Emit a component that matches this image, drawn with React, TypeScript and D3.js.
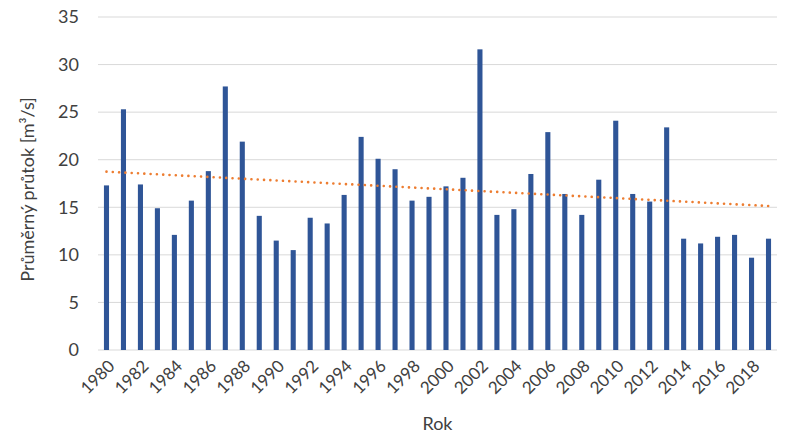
import React, { useEffect, useRef } from "react";
import * as d3 from "d3";

// Years and mean annual flow (m³/s)
const years: number[] = d3.range(1980, 2020);
const flows: number[] = [
  17.3, 25.3, 17.4, 14.9, 12.1, 15.7, 18.8, 27.7, 21.9, 14.1,
  11.5, 10.5, 13.9, 13.3, 16.3, 22.4, 20.1, 19.0, 15.7, 16.1,
  17.2, 18.1, 31.6, 14.2, 14.8, 18.5, 22.9, 16.4, 14.2, 17.9,
  24.1, 16.4, 15.6, 23.4, 11.7, 11.2, 11.9, 12.1, 9.7, 11.7,
];
const yTicks: number[] = [0, 5, 10, 15, 20, 25, 30, 35];
const xTickYears: number[] = d3.range(1980, 2019, 2);

const App: React.FC = () => {
  const svgRef = useRef<SVGSVGElement>(null);

  useEffect(() => {
    const width = 800;
    const height = 441;
    const margin = { top: 17, right: 23, bottom: 91, left: 98 };

    const svg = d3.select(svgRef.current);
    svg.selectAll("*").remove();

    const x = d3.scaleBand<number>()
      .domain(years)
      .range([margin.left, width - margin.right])
      .paddingInner(0.7)
      .paddingOuter(0.35);

    const y = d3.scaleLinear()
      .domain([0, 35])
      .range([height - margin.bottom, margin.top]);

    const font = "Lato, 'Open Sans', sans-serif";
    const textColor = "#404040";

    // gridlines
    svg.append("g")
      .selectAll("line")
      .data(yTicks)
      .join("line")
      .attr("x1", margin.left)
      .attr("x2", width - margin.right)
      .attr("y1", d => y(d))
      .attr("y2", d => y(d))
      .attr("stroke", "#d9d9d9")
      .attr("stroke-width", 1);

    // y tick labels
    svg.append("g")
      .selectAll("text")
      .data(yTicks)
      .join("text")
      .attr("x", 79)
      .attr("y", d => y(d))
      .attr("dy", "0.35em")
      .attr("text-anchor", "end")
      .attr("font-family", font)
      .attr("font-size", 18)
      .attr("fill", textColor)
      .text(d => d);

    // bars
    svg.append("g")
      .selectAll("rect")
      .data(years)
      .join("rect")
      .attr("x", d => x(d)!)
      .attr("width", x.bandwidth())
      .attr("y", (_, i) => y(flows[i]))
      .attr("height", (_, i) => y(0) - y(flows[i]))
      .attr("fill", "#2F5597");

    // linear trend line
    const idx = years.map((_, i) => i);
    const mx = d3.mean(idx)!;
    const my = d3.mean(flows)!;
    const slope = d3.sum(idx, i => (i - mx) * (flows[i] - my)) / d3.sum(idx, i => (i - mx) ** 2);
    const trend = (i: number) => my + slope * (i - mx);
    const half = x.bandwidth() / 2;
    const n = years.length - 1;

    svg.append("line")
      .attr("x1", x(years[0])! + half)
      .attr("x2", x(years[n])! + half)
      .attr("y1", y(trend(0)))
      .attr("y2", y(trend(n)))
      .attr("stroke", "#ED7D31")
      .attr("stroke-width", 2.6)
      .attr("stroke-linecap", "round")
      .attr("stroke-dasharray", "0.01 6.3");

    // x tick labels
    svg.append("g")
      .selectAll("text")
      .data(xTickYears)
      .join("text")
      .attr("transform", d => `translate(${x(d)! + half + 5}, ${y(0) + 13}) rotate(-45)`)
      .attr("text-anchor", "end")
      .attr("dy", "0.35em")
      .attr("font-family", font)
      .attr("font-size", 17)
      .attr("fill", textColor)
      .text(d => d);

    // axis titles
    svg.append("text")
      .attr("x", (margin.left + width - margin.right) / 2)
      .attr("y", 430)
      .attr("text-anchor", "middle")
      .attr("font-family", font)
      .attr("font-size", 18)
      .attr("fill", textColor)
      .text("Rok");

    svg.append("text")
      .attr("transform", `translate(34, ${(y(0) + y(35)) / 2 + 6}) rotate(-90)`)
      .attr("text-anchor", "middle")
      .attr("font-family", font)
      .attr("font-size", 18)
      .attr("fill", textColor)
      .text("Průměrný průtok [m³/s]");
  }, []);

  return (
    <svg
      ref={svgRef}
      width={800}
      height={441}
      style={{ position: "absolute", left: 0, top: 0, background: "#fff" }}
    ></svg>
  );
};

export default App;
